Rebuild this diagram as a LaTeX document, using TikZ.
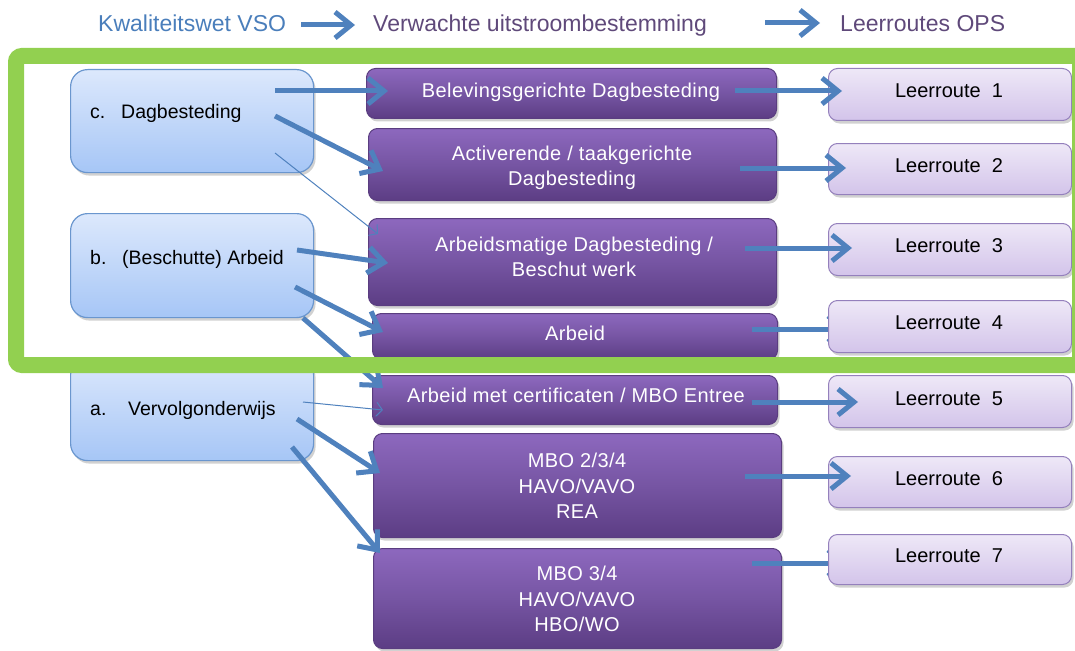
\documentclass[tikz,border=0pt]{standalone}
\usepackage{fontspec}
\setmainfont{Liberation Sans}
\newfontfamily\pfont[LetterSpace=2]{Liberation Sans}
\usetikzlibrary{arrows.meta,shadows,calc}
\definecolor{arrowblue}{HTML}{4F81BD}
\definecolor{headblue}{HTML}{4A7EBB}
\definecolor{headpurple}{HTML}{5F497A}
\definecolor{ltop}{HTML}{DCE8FC}
\definecolor{lbot}{HTML}{A6C6F6}
\definecolor{lborder}{HTML}{6A96CE}
\definecolor{ptop}{HTML}{8D68BE}
\definecolor{pmid}{HTML}{7655A3}
\definecolor{pbot}{HTML}{5C3D84}
\definecolor{pborder}{HTML}{5A3D80}
\definecolor{rtop}{HTML}{EEE8F7}
\definecolor{rbot}{HTML}{D3C4EA}
\definecolor{rborder}{HTML}{9480BC}
\definecolor{framegreen}{HTML}{92D050}
\begin{document}
\begin{tikzpicture}[x=1pt,y=-1pt,
  shadowed/.style={drop shadow={shadow xshift=2pt,shadow yshift=-3pt,opacity=.3,fill=black!60}},
  lbox/.style={shadowed,draw=lborder,line width=1.2pt,rounded corners=17pt,top color=ltop,bottom color=lbot,inner sep=0pt,anchor=north west},
  pbox/.style={shadowed,draw=pborder,line width=1pt,rounded corners=9pt,top color=ptop,bottom color=pbot,middle color=pmid,inner sep=0pt,anchor=north west},
  rbox/.style={shadowed,draw=rborder,line width=1pt,rounded corners=9pt,top color=rtop,bottom color=rbot,inner sep=0pt,anchor=north west},
  htxt/.style={font=\fontsize{23}{27}\selectfont,inner sep=0pt,anchor=base west},
  ltxt/.style={font=\fontsize{19.5}{24}\selectfont,text=black,inner sep=0pt,anchor=base west},
  ptxt/.style={font=\pfont\fontsize{20}{25.5}\selectfont,text=white,inner sep=0pt,align=center},
  ptxtone/.style={ptxt,text height=14.3pt,text depth=0pt},
  rtxt/.style={font=\fontsize{20}{24}\selectfont,text=black,inner sep=0pt,text height=14.3pt,text depth=0pt},
  arr/.style={draw=arrowblue,line width=5pt,-{Straight Barb[length=16pt,width=26pt]}},
  tarr/.style={draw=arrowblue,line width=1pt,-{Straight Barb[length=6pt,width=14pt]}}
]
\useasboundingbox (0,0) rectangle (1075,650);
\clip (0,0) rectangle (1075,650);

% header
\node[htxt,text=headblue] (h1) at (98,32) {Kwaliteitswet VSO};
\node[htxt,text=headpurple] (h2) at (373,32) {Verwachte uitstroombestemming};
\node[htxt,text=headpurple] (h3) at (840,32) {Leerroutes OPS};
\draw[arr] ($(h1.base east)+(15,-7)$) -- ($(h2.base west)+(-18,-7)$);
\draw[arr] ($(h2.base east)+(58,-9)$) -- ($(h3.base west)+(-20,-9)$);

% left boxes
\node[lbox,minimum width=243pt,minimum height=103pt] (lc) at (70,69) {};
\node[lbox,minimum width=243pt,minimum height=104pt] (lb) at (70,213) {};
\node[lbox,minimum width=243pt,minimum height=103pt] (la) at (70,357) {};
\node[ltxt] (lct) at (90,118) {\makebox[31pt][l]{c.}Dagbesteding};
\node[ltxt] (lbt) at (90,264) {\makebox[32pt][l]{b.}(Beschutte) Arbeid};
\node[ltxt] (lat) at (90,415) {\makebox[38pt][l]{a.}Vervolgonderwijs};

% purple boxes
\node[pbox,minimum width=410pt,minimum height=50pt] (p1) at (366,68) {};
\node[pbox,minimum width=408pt,minimum height=72pt] (p2) at (368,128) {};
\node[pbox,minimum width=408pt,minimum height=87pt] (p3) at (368,218) {};
\node[pbox,minimum width=405pt,minimum height=46pt] (p4) at (372,313) {};
\node[pbox,minimum width=405pt,minimum height=49pt] (p5) at (372,375) {};
\node[pbox,minimum width=408pt,minimum height=104pt] (p6) at (373,433) {};
\node[pbox,minimum width=408pt,minimum height=100pt] (p7) at (373,548) {};
\node[ptxtone] (p1t) at (571,90) {Belevingsgerichte Dagbesteding};
\node[ptxt] (p2t) at (572,168) {Activerende / taakgerichte\\Dagbesteding};
\node[ptxt] (p3t) at (574,257) {Arbeidsmatige Dagbesteding /\\Beschut werk};
\node[ptxtone] (p4t) at (575,333) {Arbeid};
\node[ptxtone] (p5t) at (576,395) {Arbeid met certificaten / MBO Entree};
\node[ptxt] (p6t) at (577,486) {MBO 2/3/4\\HAVO/VAVO\\REA};
\node[ptxt] (p7t) at (577,599) {MBO 3/4\\HAVO/VAVO\\HBO/WO};

% arrows left -> middle
\draw[arr] ($(lc.north west)+(205,22)$) -- ($(p1.north west)+(22,23)$);
\draw[arr] ($(lc.north west)+(205,47)$) -- ($(p2.north west)+(15,43)$);
\draw[tarr] ($(lc.north west)+(205,84)$) -- ($(p3.north west)+(10,16)$);
\draw[arr] ($(lb.north west)+(227,37)$) -- ($(p3.north west)+(20,45)$);
\draw[arr] ($(lb.north west)+(225,74)$) -- ($(p4.north west)+(11,19)$);
\draw[arr] ($(lb.north west)+(233,105)$) -- ($(p5.north west)+(11,13)$);
\draw[tarr] ($(la.north west)+(233,45)$) -- ($(p5.north west)+(11,35)$);
\draw[arr] ($(la.north west)+(227,62)$) -- ($(p6.north west)+(7,40)$);
\draw[arr] ($(la.north west)+(222,90)$) -- ($(p7.north west)+(7,5)$);

% arrows hidden behind right boxes
\coordinate (r4in) at (848,329);
\coordinate (r7in) at (848,563);
\draw[arr] ($(p4.north west)+(380,16)$) -- (r4in);
\draw[arr] ($(p7.north west)+(379,15)$) -- (r7in);

% right boxes
\node[rbox,minimum width=243pt,minimum height=52pt] (r1) at (828,68) {};
\node[rbox,minimum width=243pt,minimum height=51pt] (r2) at (828,143) {};
\node[rbox,minimum width=243pt,minimum height=52pt] (r3) at (828,223) {};
\node[rbox,minimum width=243pt,minimum height=52pt] (r4) at (828,300) {};
\node[rbox,minimum width=243pt,minimum height=52pt] (r5) at (828,375) {};
\node[rbox,minimum width=243pt,minimum height=51pt] (r6) at (828,456) {};
\node[rbox,minimum width=243pt,minimum height=50pt] (r7) at (828,534) {};
\node[rtxt] (r1t) at (949,90) {Leerroute\ \ 1};
\node[rtxt] (r2t) at (949,165) {Leerroute\ \ 2};
\node[rtxt] (r3t) at (949,245) {Leerroute\ \ 3};
\node[rtxt] (r4t) at (949,322) {Leerroute\ \ 4};
\node[rtxt] (r5t) at (949,398) {Leerroute\ \ 5};
\node[rtxt] (r6t) at (949,478) {Leerroute\ \ 6};
\node[rtxt] (r7t) at (949,555) {Leerroute\ \ 7};

% arrows middle -> right
\draw[arr] ($(p1.north west)+(369,23)$) -- ($(r1.north west)+(14,23)$);
\draw[arr] ($(p2.north west)+(372,40)$) -- ($(r2.north west)+(18,25)$);
\draw[arr] ($(p3.north west)+(377,30)$) -- ($(r3.north west)+(24,25)$);
\draw[arr] ($(p5.north west)+(380,27)$) -- ($(r5.north west)+(30,27)$);
\draw[arr] ($(p6.north west)+(372,43)$) -- ($(r6.north west)+(23,20)$);

% green frame
\draw[framegreen,line width=16pt,rounded corners=6pt] (16,56) rectangle (1080,365);
\end{tikzpicture}
\end{document}
